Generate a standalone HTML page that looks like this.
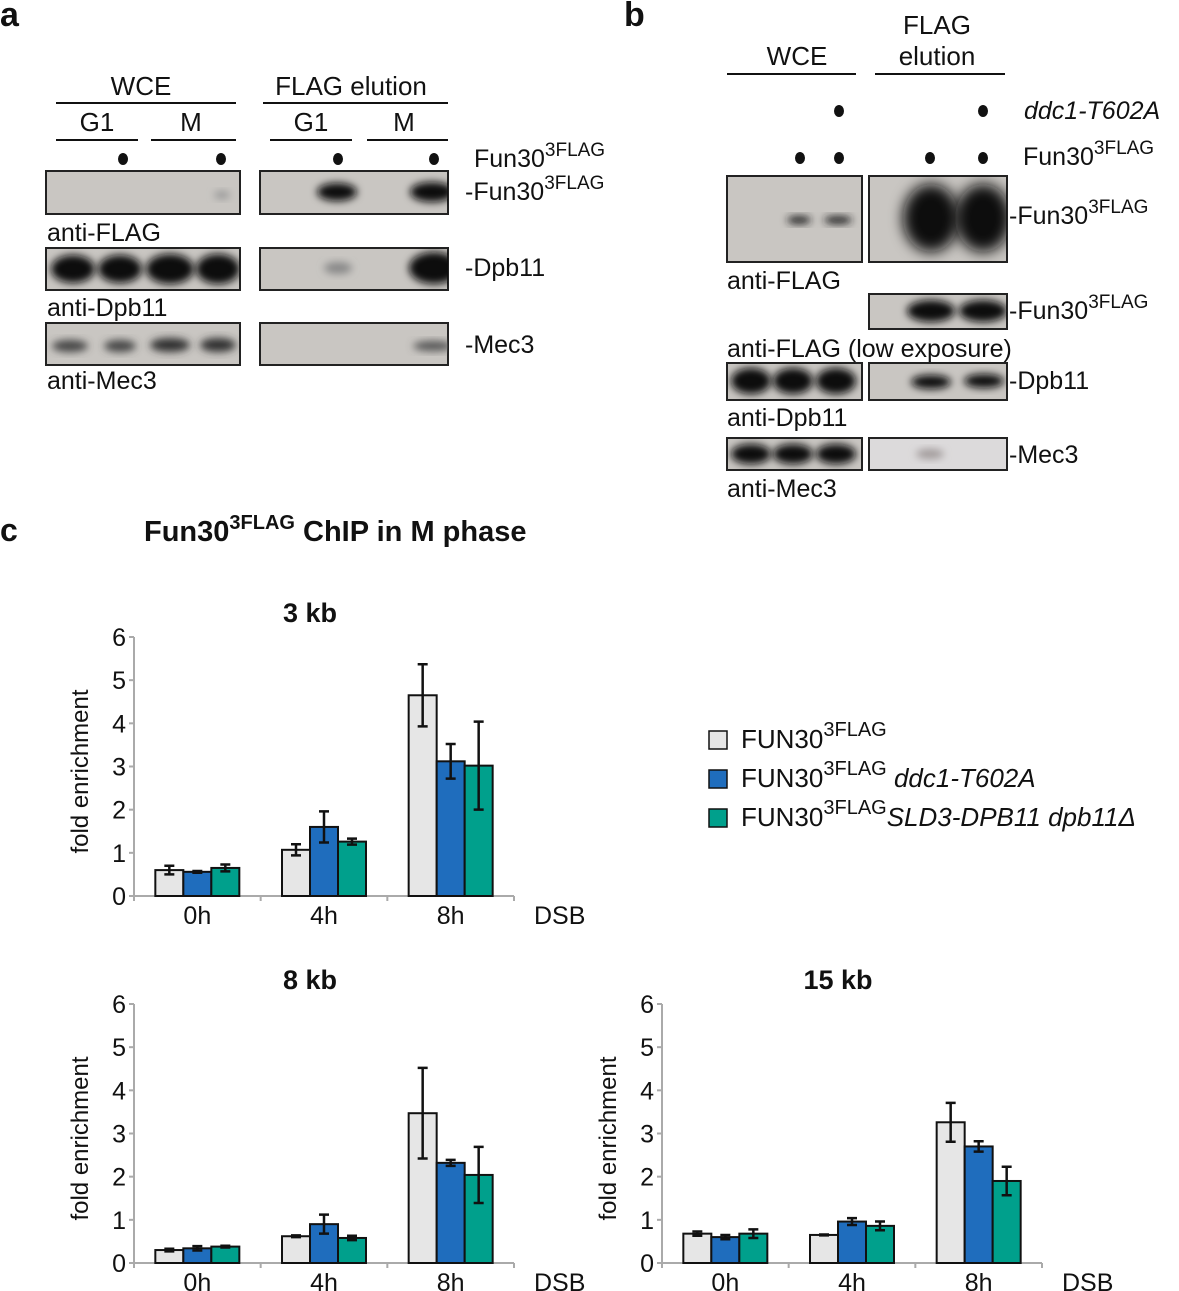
<!DOCTYPE html>
<html><head><meta charset="utf-8"><style>
html,body{margin:0;padding:0;background:#fff;}
svg{display:block;font-family:"Liberation Sans",Arial,sans-serif;}
</style></head><body>
<svg id="fig" width="1179" height="1291" viewBox="0 0 1179 1291">
<defs>
<filter id="bl" x="-50%" y="-50%" width="200%" height="200%"><feGaussianBlur stdDeviation="4"/></filter>
<filter id="bl2" x="-50%" y="-50%" width="200%" height="200%"><feGaussianBlur stdDeviation="7"/></filter>
<clipPath id="a1l"><rect x="46" y="171" width="194" height="43"/></clipPath>
<clipPath id="a1r"><rect x="260" y="171" width="188" height="43"/></clipPath>
<clipPath id="a2l"><rect x="46" y="248" width="194" height="42"/></clipPath>
<clipPath id="a2r"><rect x="260" y="248" width="188" height="42"/></clipPath>
<clipPath id="a3l"><rect x="46" y="323" width="194" height="42"/></clipPath>
<clipPath id="a3r"><rect x="260" y="323" width="188" height="42"/></clipPath>
<clipPath id="b1l"><rect x="727" y="176" width="135" height="86"/></clipPath>
<clipPath id="b1r"><rect x="869" y="176" width="138" height="86"/></clipPath>
<clipPath id="b2r"><rect x="869" y="294" width="138" height="35"/></clipPath>
<clipPath id="b3l"><rect x="727" y="363" width="135" height="37"/></clipPath>
<clipPath id="b3r"><rect x="869" y="363" width="138" height="37"/></clipPath>
<clipPath id="b4l"><rect x="727" y="438" width="135" height="32"/></clipPath>
<clipPath id="b4r"><rect x="869" y="438" width="138" height="32"/></clipPath>
</defs>

<!-- Panel a -->
<g fill="#111">
<text x="0" y="26" font-size="34" font-weight="bold">a</text>
<text x="141" y="95" font-size="26" text-anchor="middle">WCE</text>
<text x="351" y="95" font-size="26" text-anchor="middle">FLAG elution</text>
<line x1="56" y1="103" x2="236" y2="103" stroke="#111" stroke-width="2"/>
<line x1="263" y1="103" x2="448" y2="103" stroke="#111" stroke-width="2"/>
<text x="97" y="131" font-size="26" text-anchor="middle">G1</text>
<text x="191" y="131" font-size="26" text-anchor="middle">M</text>
<text x="311" y="131" font-size="26" text-anchor="middle">G1</text>
<text x="404" y="131" font-size="26" text-anchor="middle">M</text>
<line x1="56" y1="140" x2="138" y2="140" stroke="#111" stroke-width="2"/>
<line x1="151" y1="140" x2="236" y2="140" stroke="#111" stroke-width="2"/>
<line x1="270" y1="140" x2="352" y2="140" stroke="#111" stroke-width="2"/>
<line x1="367" y1="140" x2="448" y2="140" stroke="#111" stroke-width="2"/>
<ellipse cx="123" cy="159" rx="5" ry="6"/><ellipse cx="221" cy="159" rx="5" ry="6"/>
<ellipse cx="338" cy="159" rx="5" ry="6"/><ellipse cx="434" cy="159" rx="5" ry="6"/>
<text x="474" y="167" font-size="25">Fun30<tspan font-size="19" dy="-11">3FLAG</tspan></text>
<rect x="46" y="171" width="194" height="43" fill="#c9c6c2" stroke="#222" stroke-width="2"/>
<rect x="260" y="171" width="188" height="43" fill="#c9c6c2" stroke="#222" stroke-width="2"/>
<g clip-path="url(#a1l)"><ellipse cx="222" cy="195" rx="8" ry="4" fill="#999" filter="url(#bl)"/></g>
<g clip-path="url(#a1r)">
<ellipse cx="337" cy="192" rx="20" ry="9" fill="#111" filter="url(#bl)"/>
<ellipse cx="432" cy="192" rx="22" ry="10" fill="#111" filter="url(#bl)"/></g>
<text x="465" y="200" font-size="25">-Fun30<tspan font-size="19" dy="-11">3FLAG</tspan></text>
<text x="47" y="241" font-size="25">anti-FLAG</text>
<rect x="46" y="248" width="194" height="42" fill="#c9c6c2" stroke="#222" stroke-width="2"/>
<rect x="260" y="248" width="188" height="42" fill="#c9c6c2" stroke="#222" stroke-width="2"/>
<g clip-path="url(#a2l)">
<ellipse cx="73" cy="269" rx="22" ry="14" fill="#111" filter="url(#bl)"/>
<ellipse cx="120" cy="269" rx="22" ry="14" fill="#111" filter="url(#bl)"/>
<ellipse cx="170" cy="269" rx="24" ry="15" fill="#111" filter="url(#bl)"/>
<ellipse cx="218" cy="269" rx="22" ry="15" fill="#111" filter="url(#bl)"/></g>
<g clip-path="url(#a2r)">
<ellipse cx="338" cy="268" rx="14" ry="6" fill="#888" filter="url(#bl)"/>
<ellipse cx="434" cy="268" rx="25" ry="16" fill="#0a0a0a" filter="url(#bl)"/></g>
<text x="465" y="276" font-size="25">-Dpb11</text>
<text x="47" y="316" font-size="25">anti-Dpb11</text>
<rect x="46" y="323" width="194" height="42" fill="#c9c6c2" stroke="#222" stroke-width="2"/>
<rect x="260" y="323" width="188" height="42" fill="#c9c6c2" stroke="#222" stroke-width="2"/>
<g clip-path="url(#a3l)">
<ellipse cx="70" cy="346" rx="18" ry="6" fill="#444" filter="url(#bl)"/>
<ellipse cx="120" cy="346" rx="16" ry="6" fill="#444" filter="url(#bl)"/>
<ellipse cx="170" cy="345" rx="20" ry="7" fill="#333" filter="url(#bl)"/>
<ellipse cx="218" cy="345" rx="18" ry="7" fill="#333" filter="url(#bl)"/></g>
<g clip-path="url(#a3r)"><ellipse cx="433" cy="346" rx="20" ry="5" fill="#555" filter="url(#bl)"/></g>
<text x="465" y="353" font-size="25">-Mec3</text>
<text x="47" y="389" font-size="25">anti-Mec3</text>
</g>

<!-- Panel b -->
<g fill="#111">
<text x="624" y="26" font-size="34" font-weight="bold">b</text>
<text x="797" y="65" font-size="26" text-anchor="middle">WCE</text>
<text x="937" y="34" font-size="26" text-anchor="middle">FLAG</text>
<text x="937" y="65" font-size="26" text-anchor="middle">elution</text>
<line x1="727" y1="74" x2="856" y2="74" stroke="#111" stroke-width="2"/>
<line x1="875" y1="74" x2="1005" y2="74" stroke="#111" stroke-width="2"/>
<ellipse cx="839" cy="111" rx="5" ry="6"/><ellipse cx="983" cy="111" rx="5" ry="6"/>
<text x="1024" y="119" font-size="25" font-style="italic">ddc1-T602A</text>
<ellipse cx="800" cy="158" rx="5" ry="6"/><ellipse cx="839" cy="158" rx="5" ry="6"/>
<ellipse cx="930" cy="158" rx="5" ry="6"/><ellipse cx="983" cy="158" rx="5" ry="6"/>
<text x="1023" y="165" font-size="25">Fun30<tspan font-size="19" dy="-11">3FLAG</tspan></text>
<rect x="727" y="176" width="135" height="86" fill="#c9c6c2" stroke="#222" stroke-width="2"/>
<rect x="869" y="176" width="138" height="86" fill="#c9c6c2" stroke="#222" stroke-width="2"/>
<g clip-path="url(#b1l)">
<ellipse cx="799" cy="220" rx="12" ry="4" fill="#222" filter="url(#bl)"/>
<ellipse cx="838" cy="220" rx="14" ry="4" fill="#222" filter="url(#bl)"/></g>
<g clip-path="url(#b1r)">
<ellipse cx="931" cy="218" rx="28" ry="34" fill="#0a0a0a" filter="url(#bl2)"/>
<ellipse cx="983" cy="218" rx="28" ry="34" fill="#0a0a0a" filter="url(#bl2)"/></g>
<text x="1009" y="224" font-size="25">-Fun30<tspan font-size="19" dy="-11">3FLAG</tspan></text>
<text x="727" y="289" font-size="25">anti-FLAG</text>
<rect x="869" y="294" width="138" height="35" fill="#c9c6c2" stroke="#222" stroke-width="2"/>
<g clip-path="url(#b2r)">
<ellipse cx="931" cy="311" rx="24" ry="11" fill="#111" filter="url(#bl)"/>
<ellipse cx="983" cy="311" rx="24" ry="11" fill="#111" filter="url(#bl)"/></g>
<text x="1009" y="319" font-size="25">-Fun30<tspan font-size="19" dy="-11">3FLAG</tspan></text>
<text x="727" y="357" font-size="25">anti-FLAG (low exposure)</text>
<rect x="727" y="363" width="135" height="37" fill="#c9c6c2" stroke="#222" stroke-width="2"/>
<rect x="869" y="363" width="138" height="37" fill="#c9c6c2" stroke="#222" stroke-width="2"/>
<g clip-path="url(#b3l)">
<ellipse cx="751" cy="381" rx="20" ry="13" fill="#0a0a0a" filter="url(#bl)"/>
<ellipse cx="793" cy="381" rx="20" ry="13" fill="#0a0a0a" filter="url(#bl)"/>
<ellipse cx="836" cy="381" rx="20" ry="13" fill="#0a0a0a" filter="url(#bl)"/></g>
<g clip-path="url(#b3r)">
<ellipse cx="931" cy="382" rx="20" ry="7" fill="#111" filter="url(#bl)"/>
<ellipse cx="984" cy="381" rx="20" ry="7" fill="#111" filter="url(#bl)"/></g>
<text x="1009" y="389" font-size="25">-Dpb11</text>
<text x="727" y="426" font-size="25">anti-Dpb11</text>
<rect x="727" y="438" width="135" height="32" fill="#c9c6c2" stroke="#222" stroke-width="2"/>
<rect x="869" y="438" width="138" height="32" fill="#dcdadb" stroke="#222" stroke-width="2"/>
<g clip-path="url(#b4l)">
<ellipse cx="751" cy="454" rx="20" ry="10" fill="#0a0a0a" filter="url(#bl)"/>
<ellipse cx="793" cy="454" rx="20" ry="10" fill="#0a0a0a" filter="url(#bl)"/>
<ellipse cx="836" cy="454" rx="20" ry="10" fill="#0a0a0a" filter="url(#bl)"/></g>
<g clip-path="url(#b4r)"><ellipse cx="930" cy="454" rx="14" ry="5" fill="#a09a9a" filter="url(#bl)"/></g>
<text x="1009" y="463" font-size="25">-Mec3</text>
<text x="727" y="497" font-size="25">anti-Mec3</text>
</g>

<g fill="#111">
<text x="0" y="541" font-size="32" font-weight="bold">c</text>
<text x="144" y="541" font-size="29" font-weight="bold">Fun30<tspan font-size="20" dy="-12">3FLAG</tspan><tspan dy="12"> ChIP in M phase</tspan></text>
</g>

<g font-size="26" fill="#111">
<rect x="709" y="731" width="18" height="18" fill="#e6e6e6" stroke="#111" stroke-width="1.5"/>
<text x="741" y="748">FUN30<tspan font-size="20" dy="-12">3FLAG</tspan></text>
<rect x="709" y="770" width="18" height="18" fill="#1f6dbd" stroke="#111" stroke-width="1.5"/>
<text x="741" y="787">FUN30<tspan font-size="20" dy="-12">3FLAG</tspan><tspan dy="12" font-style="italic"> ddc1-T602A</tspan></text>
<rect x="709" y="809" width="18" height="18" fill="#00a08c" stroke="#111" stroke-width="1.5"/>
<text x="741" y="826">FUN30<tspan font-size="20" dy="-12">3FLAG</tspan><tspan dy="12" font-style="italic">SLD3-DPB11 dpb11Δ</tspan></text>
</g>
<g id="charts"></g>
</svg>
<script>
const categories = ["0h", "4h", "8h"];
const seriesNames = ["FUN30-3FLAG", "ddc1-T602A", "SLD3-DPB11 dpb11D"];
const yTicks = [0, 1, 2, 3, 4, 5, 6];
const kb3Values = [[0.6, 1.07, 4.65], [0.56, 1.6, 3.12], [0.65, 1.26, 3.02]];
const kb3Errors = [[0.1, 0.13, 0.72], [0.02, 0.36, 0.4], [0.08, 0.07, 1.02]];
const kb8Values = [[0.3, 0.62, 3.47], [0.34, 0.9, 2.32], [0.38, 0.58, 2.04]];
const kb8Errors = [[0.03, 0.02, 1.05], [0.05, 0.22, 0.07], [0.02, 0.05, 0.65]];
const kb15Values = [[0.68, 0.65, 3.26], [0.6, 0.96, 2.7], [0.68, 0.86, 1.9]];
const kb15Errors = [[0.05, 0.01, 0.45], [0.05, 0.08, 0.12], [0.1, 0.1, 0.33]];
const chartTitles = ["3 kb", "8 kb", "15 kb"];

const NS = "http://www.w3.org/2000/svg";
const colors = ["#e6e6e6", "#1f6dbd", "#00a08c"];
const root = document.getElementById("charts");
function mk(tag, attrs, parent) {
  const e = document.createElementNS(NS, tag);
  for (const k in attrs) e.setAttribute(k, attrs[k]);
  parent.appendChild(e);
  return e;
}
function drawChart(ax, y0, title, values, errors, slug) {
  const yTop = y0 - 259, xEnd = ax + 380;
  const yMax = yTicks[yTicks.length - 1];
  const ys = v => y0 - (v / yMax) * (y0 - yTop);
  const gw = (xEnd - ax) / categories.length;
  const xs = i => ax + gw * (i + 0.5);
  const bw = 28;
  const g = mk("g", {}, root);
  
  
  const t = mk("text", {x: ax + 176, y: yTop - 15, "font-size": 27, "font-weight": "bold", "text-anchor": "middle", fill: "#111"}, g);
  t.textContent = title;
  
  
  const yl = mk("text", {x: 0, y: 0, "font-size": 24, "text-anchor": "middle", fill: "#111", transform: `translate(${ax - 46},${(y0 + yTop) / 2 + 5}) rotate(-90)`}, g);
  yl.textContent = "fold enrichment";
  
  
  mk("line", {x1: ax, y1: yTop, x2: ax, y2: y0, stroke: "#aaa", "stroke-width": 2}, g);
  mk("line", {x1: ax, y1: y0, x2: xEnd, y2: y0, stroke: "#aaa", "stroke-width": 2}, g);
  yTicks.forEach(v => {
    mk("line", {x1: ax - 5, y1: ys(v), x2: ax, y2: ys(v), stroke: "#aaa", "stroke-width": 2}, g);
    const tl = mk("text", {x: ax - 8, y: ys(v) + 9, "font-size": 25, "text-anchor": "end", fill: "#111"}, g);
    tl.textContent = v;
    
    
  });
  for (let i = 0; i <= categories.length; i++) {
    mk("line", {x1: ax + gw * i, y1: y0, x2: ax + gw * i, y2: y0 + 5, stroke: "#aaa", "stroke-width": 2}, g);
  }
  categories.forEach((c, i) => {
    const cl = mk("text", {x: xs(i), y: y0 + 28, "font-size": 25, "text-anchor": "middle", fill: "#111"}, g);
    cl.textContent = c;
    
    
    values.forEach((ser, s) => {
      const v = ser[i], e = errors[s][i];
      const x = xs(i) - 1.5 * bw + s * bw;
      const r = mk("rect", {x: x, y: ys(v), width: bw, height: y0 - ys(v), fill: colors[s], stroke: "#111", "stroke-width": 2}, g);
      
      
      const cx = x + bw / 2;
      const eb = mk("path", {d: `M${cx},${ys(v - e)}V${ys(v + e)}M${cx - 5},${ys(v - e)}H${cx + 5}M${cx - 5},${ys(v + e)}H${cx + 5}`, stroke: "#111", "stroke-width": 2.5, fill: "none"}, g);
      
      
    });
  });
  const d = mk("text", {x: xEnd + 20, y: y0 + 28, "font-size": 25, fill: "#111"}, g);
  d.textContent = "DSB";
  
  
}
drawChart(134, 896, chartTitles[0], kb3Values, kb3Errors, "3kb");
drawChart(134, 1263, chartTitles[1], kb8Values, kb8Errors, "8kb");
drawChart(662, 1263, chartTitles[2], kb15Values, kb15Errors, "15kb");
</script>
</body></html>
